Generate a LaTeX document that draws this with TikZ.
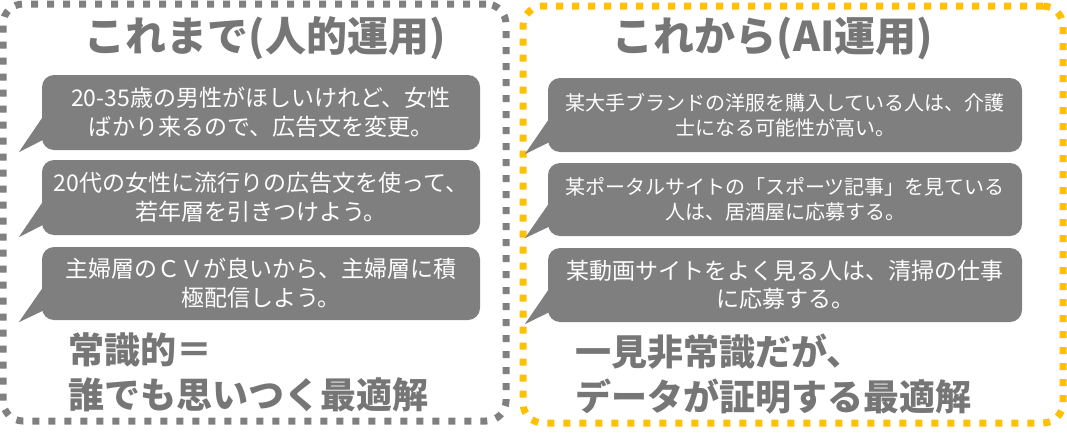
\documentclass[tikz,border=0pt]{standalone}
\usepackage{fontspec}
\setmainfont{Noto Sans CJK JP}
\usepackage{tikz}
\definecolor{framegray}{RGB}{128,128,128}
\definecolor{frameyellow}{RGB}{255,192,0}
\definecolor{bubblegray}{RGB}{127,127,127}
\definecolor{titlegray}{RGB}{118,118,118}

\begin{document}
\begin{tikzpicture} [x=1pt,y=-1pt,
  frame/.style= {shape=rectangle,rounded corners=20pt,line width=7pt,dash pattern=on 7pt off 9pt,inner sep=0},
  bubble/.style= {shape=rectangle,rounded corners=12pt,fill=bubblegray,text=white,align=center,minimum width=438pt,minimum height=75pt,inner sep=0},
  title/.style= {text=titlegray,font=\fontsize{41}{48}\selectfont\bfseries},
  summary/.style= {text=titlegray,font=\fontsize{36}{45}\selectfont\bfseries,align=left,anchor=west,inner sep=0}]

\useasboundingbox (0,0) rectangle (1067,442);

\node[frame,draw=framegray,minimum width=503pt,minimum height=417pt] (past) at (254.5,212.5) {};
\node[frame,draw=frameyellow,minimum width=540pt,minimum height=417pt] (future) at (793,214.5) {};

\node[title] (pasttitle) at (265,38) {これまで(人的運用)};
\node[title] (futuretitle) at (773,38) {これから(AI運用)};

% left column
\node[bubble,font=\fontsize{23}{29}\selectfont] (l1) at (261,112.5) {20-35歳の男性がほしいけれど、女性\\ばかり来るので、広告文を変更。};
\node[bubble,font=\fontsize{23}{29}\selectfont] (l2) at (261,197.5) {20代の女性に流行りの広告文を使って、\\若年層を引きつけよう。};
\node[bubble,font=\fontsize{23}{29}\selectfont,minimum height=73pt] (l3) at (261,283.5) {主婦層のＣＶが良いから、主婦層に積\\極配信しよう。};

% right column
\node[bubble,font=\fontsize{20}{25}\selectfont,minimum width=474pt,minimum height=74pt] (r1) at (785,115) {某大手ブランドの洋服を購入している人は、介護\\士になる可能性が高い。};
\node[bubble,font=\fontsize{20}{25}\selectfont,minimum width=474pt,minimum height=73pt] (r2) at (785,199.5) {某ポータルサイトの「スポーツ記事」を見ている\\人は、居酒屋に応募する。};
\node[bubble,font=\fontsize{23}{28}\selectfont,minimum width=474pt,minimum height=74pt] (r3) at (785,285) {某動画サイトをよく見る人は、清掃の仕事\\に応募する。};

\foreach \b in {l1,l2,l3,r1,r2,r3}{%
  \coordinate (\b tip) at ([xshift=-23pt,yshift=-2pt]\b.south west);
  \fill[bubblegray] ([xshift=8pt,yshift=6pt]\b.west) -- (\b tip) -- ([xshift=8pt,yshift=-24pt]\b.west) -- cycle;}

\node[summary] (pastsum) at (68,372.5) {常識的＝\\誰でも思いつく最適解};
\node[summary] (futuresum) at (575,374.5) {一見非常識だが、\\データが証明する最適解};
\end{tikzpicture}
\end{document}
